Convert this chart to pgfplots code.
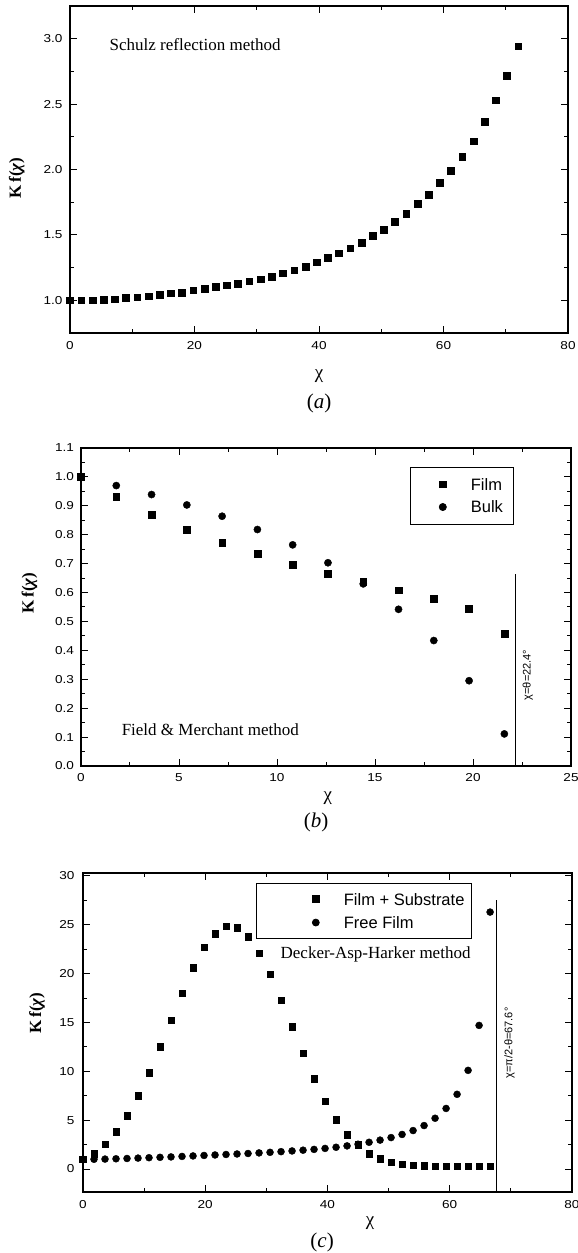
\documentclass[border=0pt]{standalone}
\usepackage{fontspec}
\setmainfont{Liberation Serif}
\setsansfont{Liberation Sans}
\newfontfamily\ticksf[FakeStretch=1.18]{Liberation Sans}
\usepackage{pgfplots}
\pgfplotsset{compat=1.18}

\pgfplotsset{
  panel/.style={
    scale only axis, anchor=south west, clip=false,
    axis line style={line width=1.3pt},
    tick align=inside,
    major tick length=7pt, minor tick length=4pt,
    every tick/.style={black, line width=1pt},
    tick label style={font=\ticksf\fontsize{11.5}{13}\selectfont},
    /pgf/number format/assume math mode=true,
    ylabel style={font=\bfseries\fontsize{17}{20}\selectfont, anchor=center},
    xlabel style={font=\fontsize{19}{22}\selectfont, anchor=center},
    legend cell align=left,
  },
  sq/.style={only marks, mark=square*, mark size=3.4pt, black},
  ci/.style={only marks, mark=*, mark size=3.6pt, black},
}

\begin{document}
\begin{tikzpicture}
\path[use as bounding box] (0,0) rectangle (578pt,1253pt);

% ---------------- (a) ----------------
\begin{axis}[panel,
  at={(70pt,920pt)}, width=498pt, height=327pt,
  xmin=0, xmax=80, ymin=0.75, ymax=3.25,
  xtick={0,20,40,60,80}, minor x tick num=1,
  ytick={1.0,1.5,2.0,2.5,3.0}, minor y tick num=1,
  yticklabel style={/pgf/number format/.cd, fixed, fixed zerofill, precision=1, /tikz/.cd, xshift=-4pt},
  xticklabel style={yshift=-5pt},
  ylabel={K\,f(\textit{χ})},
  ylabel style={at={(axis description cs:-0.107,0.474)}},
  xlabel={χ},
  xlabel style={at={(axis description cs:0.5,-0.131)}},
]
\addplot[sq] coordinates {
(0,1.000) (1.8,1.000) (3.6,1.000) (5.4,1.005) (7.2,1.008) (9,1.018) (10.8,1.023)
(12.6,1.031) (14.4,1.041) (16.2,1.054) (18,1.061) (19.8,1.077) (21.6,1.087)
(23.4,1.102) (25.2,1.115) (27,1.128) (28.8,1.146) (30.6,1.161) (32.4,1.179)
(34.2,1.207) (36,1.230) (37.8,1.258) (39.6,1.291) (41.4,1.327) (43.2,1.360)
(45,1.398) (46.8,1.439) (48.6,1.493) (50.4,1.542) (52.2,1.600) (54,1.664)
(55.8,1.736) (57.6,1.810) (59.4,1.897) (61.2,1.992) (63,2.100) (64.8,2.217)
(66.6,2.363) (68.4,2.529) (70.2,2.718) (72,2.943)
};
\node[anchor=west, inner sep=0pt, font=\fontsize{17}{20}\selectfont] at (axis cs:6.35,2.954) {Schulz reflection method};
\node[font=\fontsize{21}{24}\selectfont] at (rel axis cs:0.5,-0.214) {(\textit{a})};
\end{axis}

% ---------------- (b) ----------------
\begin{axis}[panel,
  at={(81pt,487pt)}, width=490pt, height=318pt,
  xmin=0, xmax=25, ymin=0, ymax=1.1,
  xtick={0,5,10,15,20,25}, minor x tick num=1,
  ytick={0,0.1,0.2,0.3,0.4,0.5,0.6,0.7,0.8,0.9,1.0,1.1}, minor y tick num=1,
  yticklabel style={/pgf/number format/.cd, fixed, fixed zerofill, precision=1, /tikz/.cd, xshift=-3.5pt},
  xticklabel style={yshift=-4pt},
  ylabel={K\,f(\textit{χ})},
  ylabel style={at={(axis description cs:-0.105,0.544)}},
  xlabel={χ},
  xlabel style={at={(axis description cs:0.504,-0.101)}},
  legend style={at={(axis description cs:0.671,0.940)}, anchor=north west,
    draw=black, line width=0.7pt, fill=white,
    font=\sffamily\fontsize{16.5}{19}\selectfont,
    inner xsep=10pt, inner ysep=11pt, row sep=10.9pt,
    nodes={inner sep=0pt, text height=11.8pt, text depth=0pt}},
  legend image code/.code={\path (-22.3pt,0pt) (27.7pt,0pt); \draw[#1] plot coordinates {(0pt,0pt)};},
]
\addplot[sq] coordinates {
(0,1.0) (1.8,0.931) (3.6,0.869) (5.4,0.818) (7.2,0.773) (9,0.733) (10.8,0.696)
(12.6,0.665) (14.4,0.637) (16.2,0.608) (18,0.579) (19.8,0.545) (21.6,0.458)
};
\addlegendentry{Film}
\addplot[ci] coordinates {
(0,1.0) (1.8,0.970) (3.6,0.939) (5.4,0.903) (7.2,0.864) (9,0.818) (10.8,0.765)
(12.6,0.703) (14.4,0.630) (16.2,0.542) (18,0.434) (19.8,0.295) (21.6,0.111)
};
\addlegendentry{Bulk}
\addplot[black, line width=0.8pt, forget plot] coordinates {(22.15,0) (22.15,0.665)};
\node[rotate=90, font=\sffamily\fontsize{11}{13}\selectfont] at (axis cs:22.8,0.315) {χ=θ=22.4°};
\node[anchor=west, inner sep=0pt, font=\fontsize{17}{20}\selectfont] at (axis cs:2.07,0.126) {Field \& Merchant method};
\node[font=\fontsize{21}{24}\selectfont] at (rel axis cs:0.48,-0.179) {(\textit{b})};
\end{axis}

% ---------------- (c) ----------------
\begin{axis}[panel,
  at={(83pt,61pt)}, width=489pt, height=319pt,
  xmin=0, xmax=80, ymin=-2.35, ymax=30.3,
  xtick={0,20,40,60,80}, minor x tick num=1,
  ytick={0,5,10,15,20,25,30}, minor y tick num=1,
  yticklabel style={xshift=-5pt},
  xticklabel style={yshift=-5pt},
  ylabel={K\,f(\textit{χ})},
  ylabel style={at={(axis description cs:-0.094,0.561)}},
  xlabel={χ},
  xlabel style={at={(axis description cs:0.587,-0.097)}},
  legend style={at={(axis description cs:0.353,0.969)}, anchor=north west,
    draw=black, line width=0.7pt, fill=white,
    font=\sffamily\fontsize{16.5}{19}\selectfont,
    inner xsep=7pt, inner ysep=10pt, row sep=11.6pt,
    nodes={inner sep=0pt, text height=11.8pt, text depth=0pt}},
  legend image code/.code={\path (-52.5pt,0pt) (27.7pt,0pt); \draw[#1] plot coordinates {(0pt,0pt)};},
]
\addplot[sq, mark size=3.3pt] coordinates {
(0,1.0) (1.8,1.6) (3.6,2.55) (5.4,3.8) (7.2,5.45) (9,7.5) (10.8,9.85) (12.6,12.5)
(14.4,15.25) (16.2,18.0) (18,20.6) (19.8,22.7) (21.6,24.1) (23.4,24.85) (25.2,24.7)
(27,23.8) (28.8,22.1) (30.6,19.95) (32.4,17.3) (34.2,14.55) (36,11.85) (37.8,9.25)
(39.6,6.95) (41.4,5.05) (43.2,3.5) (45,2.5) (46.8,1.6) (48.6,1.05) (50.4,0.7)
(52.2,0.5) (54,0.4) (55.8,0.33) (57.6,0.3) (59.4,0.3) (61.2,0.3) (63,0.3)
(64.8,0.3) (66.6,0.3)
};
\addlegendentry{Film + Substrate}
\addplot[ci, mark size=3.5pt] coordinates {
(0,1.0) (1.8,1.0) (3.6,1.02) (5.4,1.05) (7.2,1.08) (9,1.12) (10.8,1.16) (12.6,1.2)
(14.4,1.24) (16.2,1.29) (18,1.34) (19.8,1.39) (21.6,1.44) (23.4,1.49) (25.2,1.54)
(27,1.59) (28.8,1.65) (30.6,1.71) (32.4,1.78) (34.2,1.85) (36,1.93) (37.8,2.01)
(39.6,2.11) (41.4,2.23) (43.2,2.37) (45,2.54) (46.8,2.74) (48.6,2.96) (50.4,3.22)
(52.2,3.54) (54,3.94) (55.8,4.45) (57.6,5.2) (59.4,6.2) (61.2,7.65) (63,10.1)
(64.8,14.7) (66.6,26.3)
};
\addlegendentry{Free Film}
\addplot[black, line width=0.8pt, forget plot] coordinates {(67.6,-2.35) (67.6,27.5)};
\node[rotate=90, font=\sffamily\fontsize{11}{13}\selectfont] at (axis cs:69.8,12.9) {χ=π/2-θ=67.6°};
\node[anchor=west, inner sep=0pt, font=\fontsize{17}{20}\selectfont] at (axis cs:32.3,22.0) {Decker-Asp-Harker method};
\node[font=\fontsize{21}{24}\selectfont] at (rel axis cs:0.489,-0.157) {(\textit{c})};
\end{axis}
\end{tikzpicture}
\end{document}
